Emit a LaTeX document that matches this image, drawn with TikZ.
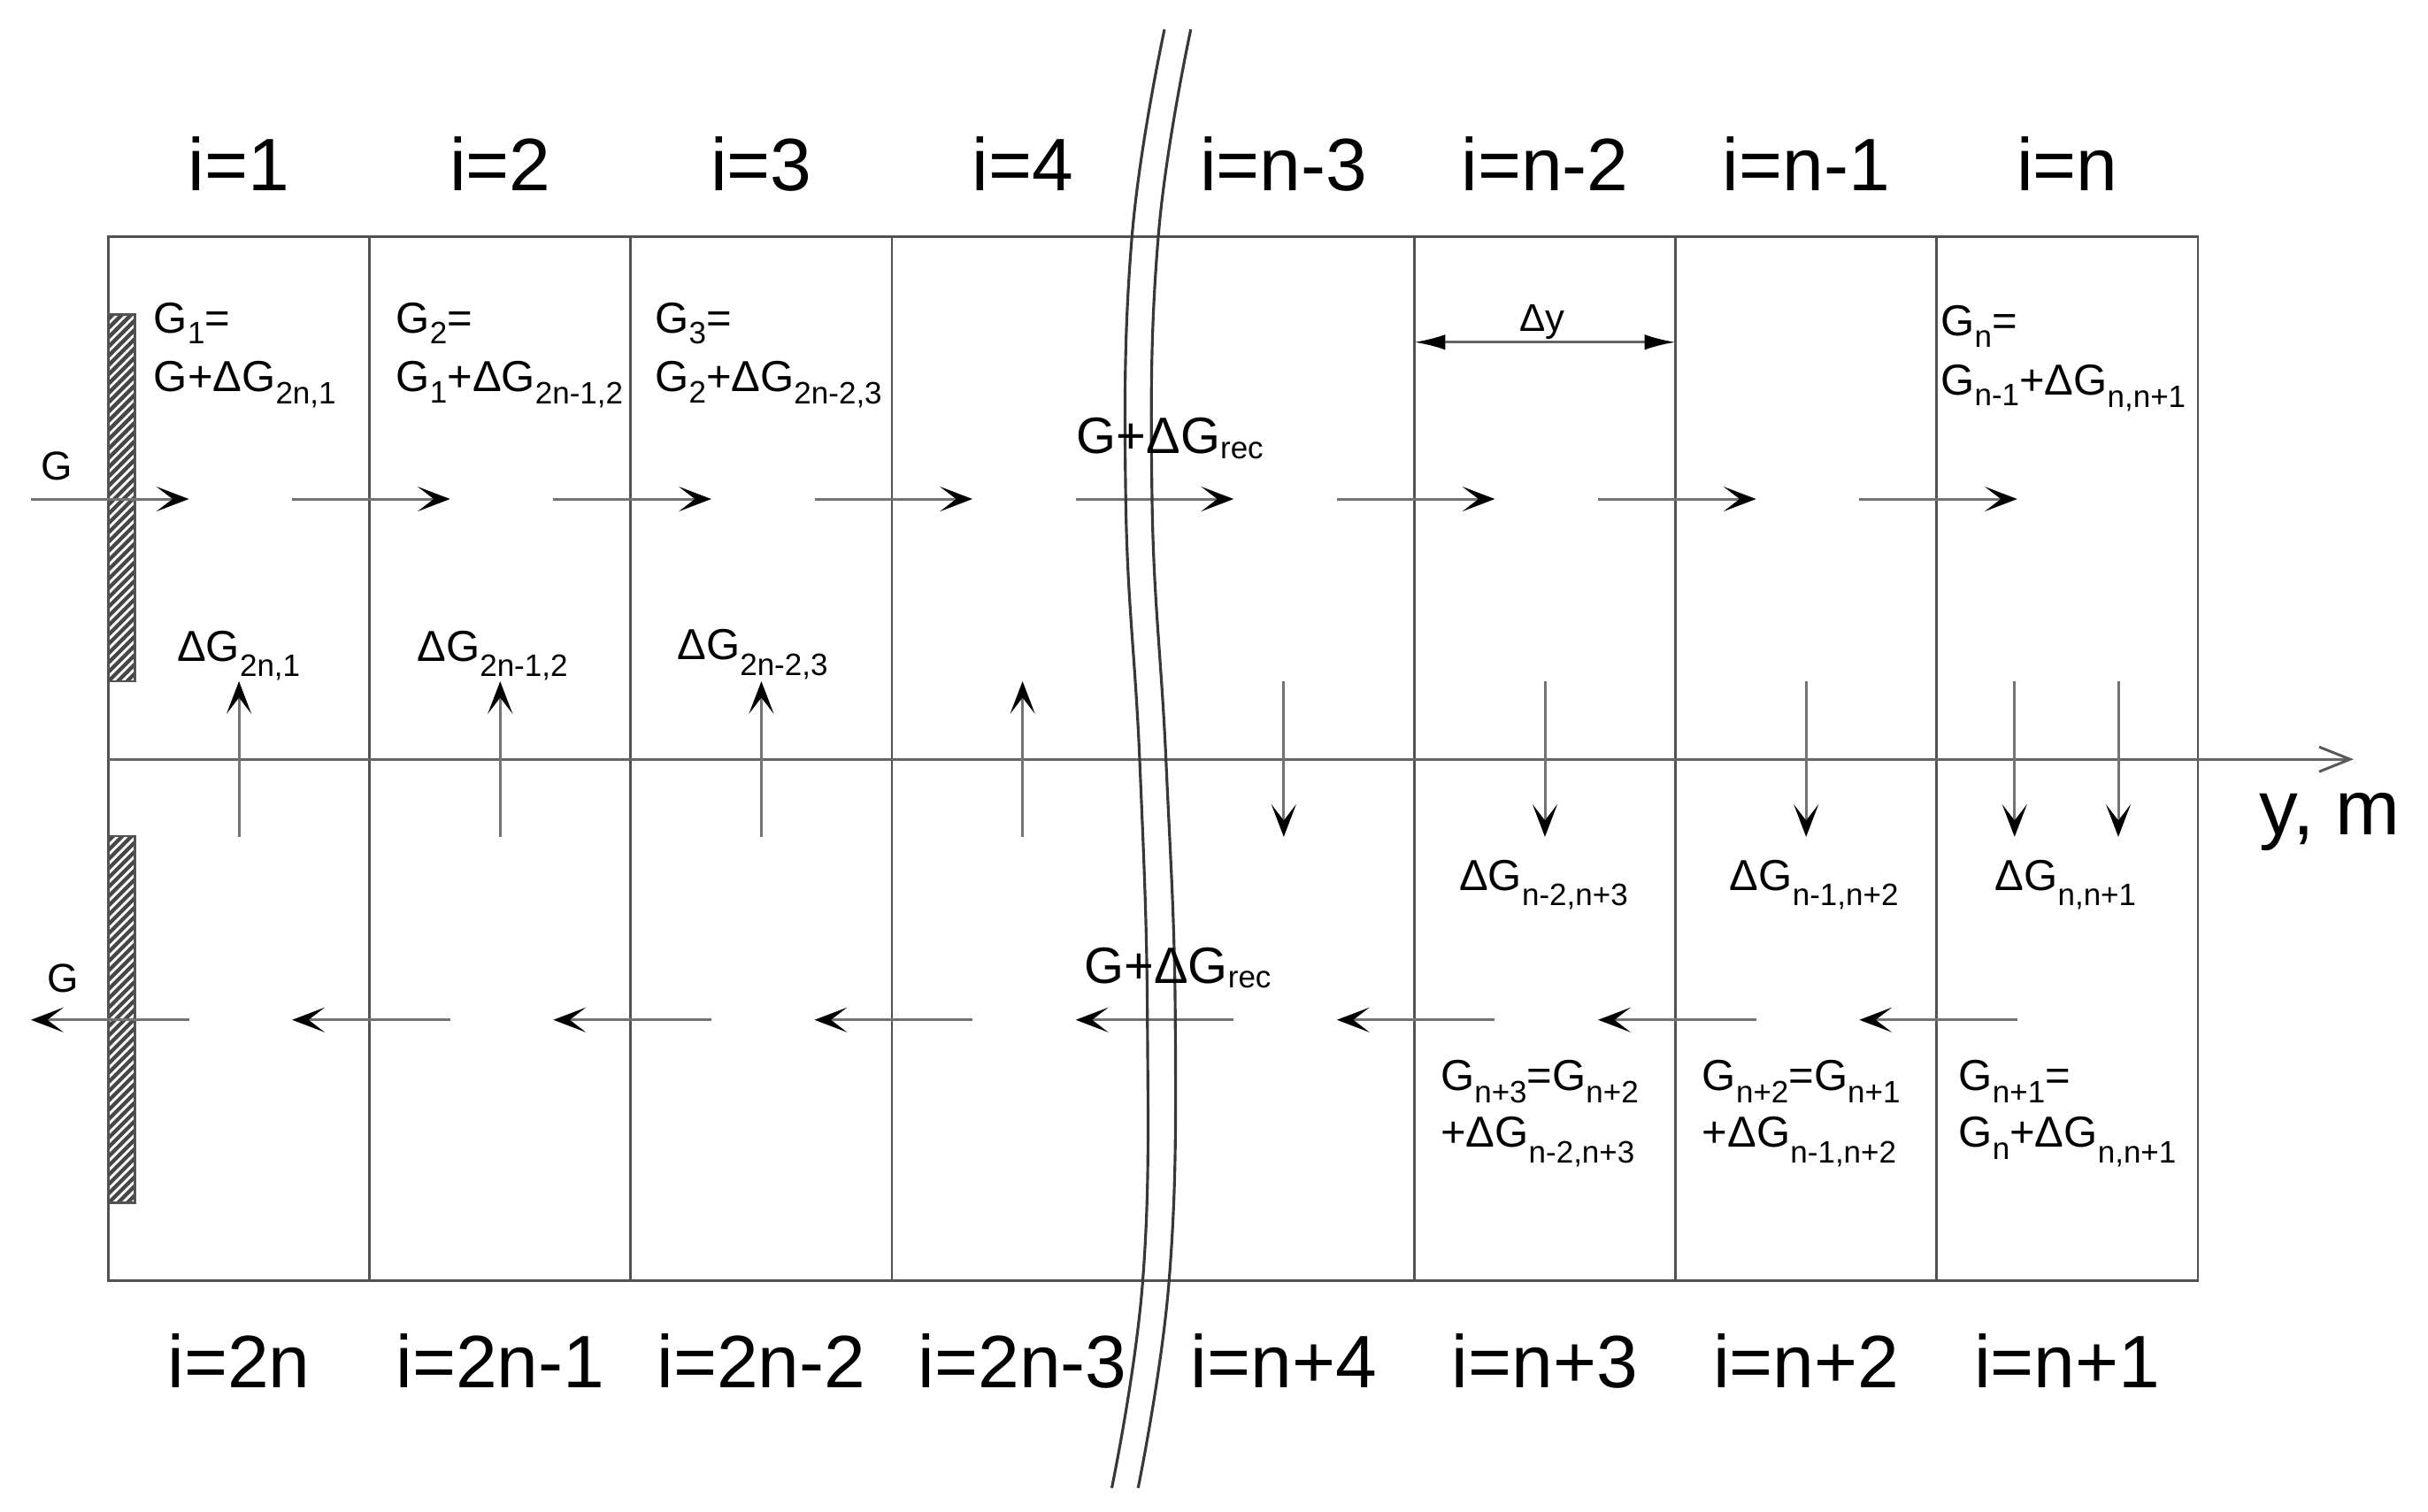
\documentclass[tikz,border=0pt]{standalone}
\usepackage{fontspec}
\setmainfont{Liberation Sans}
\usetikzlibrary{arrows.meta}
\newcommand\sbs[2][4pt]{\raisebox{-#1}{\fontsize{10}{10}\selectfont #2}}
\begin{document}
\begin{tikzpicture}[x=0.5pt,y=-0.5pt,
  frame/.style={draw=black!68, line width=0.8pt},
  flow/.style={draw=black!55, line width=0.85pt, -{Stealth[length=10.5pt,width=8pt,inset=5.2pt,color=black]}},
  dimarr/.style={draw=black!60, line width=0.85pt, {Latex[length=10pt,width=5pt,color=black]}-{Latex[length=10pt,width=5pt,color=black]}},
  axis/.style={draw=black!60, line width=0.85pt, -{Straight Barb[length=10pt,width=8pt,color=black!65]}},
  lbl/.style={inner sep=0pt, anchor=base, font=\fontsize{24}{24}\selectfont},
  txt/.style={inner sep=0pt, anchor=base west, font=\fontsize{14}{14}\selectfont},
  brk/.style={draw=black!78, line width=0.9pt},
]
\useasboundingbox (0,0) rectangle (1568,976);
% hatched walls
\foreach \yy/\hh [count=\w] in {203/440, 540/777} {
  \begin{scope}
    \clip (70,\yy) rectangle (87,\hh);
    \fill[black!72] (70,\yy) rectangle (87,\hh);
    \foreach \s in {0,6,...,270} \draw[white, line width=0.8pt] (70,{\yy+\s}) -- (100,{\yy+\s-30});
  \end{scope}
  \draw[frame] (70,\yy) rectangle (87,\hh);
}
% frame
\coordinate (TL) at (70,153);
\coordinate (BR) at (1419.4,827);
\draw[frame] (TL) rectangle (BR);
\foreach \k in {1,2,3,5,6,7} {
  \coordinate (ct\k) at ({70+168.675*\k},153);
  \coordinate (cb\k) at ({70+168.675*\k},827);
  \draw[frame] (ct\k) -- (cb\k);
}
% axis
\coordinate (ax0) at (70,490.4);
\coordinate (ax1) at (1520,490.4);
\draw[axis] (ax0) -- (ax1);
\node[inner sep=0pt, anchor=base west, font=\fontsize{25}{25}\selectfont] (ym) at (1459,539) {y, m};
% horizontal flow arrows
\foreach \k in {0,...,7} {
  \coordinate (ua\k) at ({70+168.675*\k-50},322.3);
  \coordinate (ub\k) at ({70+168.675*\k+52},322.3);
  \draw[flow] (ua\k) -- (ub\k);
  \coordinate (la\k) at ({70+168.675*\k+52},658.7);
  \coordinate (lb\k) at ({70+168.675*\k-50},658.7);
  \draw[flow] (la\k) -- (lb\k);
}
% vertical arrows
\foreach \k in {0,...,3} {
  \coordinate (va\k) at ({70+168.675*(\k+0.5)},540.5);
  \coordinate (vb\k) at ({70+168.675*(\k+0.5)},440);
  \draw[flow] (va\k) -- (vb\k);
}
\foreach \k in {4,5,6} {
  \coordinate (va\k) at ({70+168.675*(\k+0.5)},440);
  \coordinate (vb\k) at ({70+168.675*(\k+0.5)},540.5);
  \draw[flow] (va\k) -- (vb\k);
}
\coordinate (va7) at (1301,440); \coordinate (vb7) at (1301,540.5);
\coordinate (va8) at (1368,440); \coordinate (vb8) at (1368,540.5);
\draw[flow] (va7) -- (vb7);
\draw[flow] (va8) -- (vb8);
% delta y
\coordinate (dy0) at ({70+168.675*5},221);
\coordinate (dy1) at ({70+168.675*6},221);
\draw[dimarr] (dy0) -- (dy1);
\node[inner sep=0pt, anchor=base, font=\fontsize{12.5}{12.5}\selectfont] (dyl) at (996,214) {Δy};
% break lines
\draw[brk] plot[smooth, tension=0.7] coordinates {(752,19) (731,153) (727,323) (736,491) (741,659) (738,827) (718,961)};
\draw[brk] plot[smooth, tension=0.7] coordinates {(769,19) (748,153) (744,323) (753,491) (759,659) (755,827) (735,961)};
% top labels
\foreach \t [count=\k from 0] in {i=1,i=2,i=3,i=4,i=n-3,i=n-2,i=n-1,i=n}
  \node[lbl] (top\k) at ({70+168.675*(\k+0.5)},123) {\t};
\foreach \t [count=\k from 0] in {i=2n,i=2n-1,i=2n-2,i=2n-3,i=n+4,i=n+3,i=n+2,i=n+1}
  \node[lbl] (bot\k) at ({70+168.675*(\k+0.5)},896) {\t};
% inlet / outlet
\node[inner sep=0pt, anchor=base west, font=\fontsize{13}{13}\selectfont] (gin) at (26,310) {G};
\node[inner sep=0pt, anchor=base west, font=\fontsize{13}{13}\selectfont] (gout) at (30,641) {G};
% upper formulas
\node[txt] (g1a) at (99,215) {G\sbs[3.5pt]{1}=};
\node[txt] (g1b) at (99,253) {G+ΔG\sbs{2n,1}};
\node[txt] (g2a) at (255.5,215) {G\sbs[3.5pt]{2}=};
\node[txt] (g2b) at (255.5,253) {G\sbs[3.5pt]{1}+ΔG\sbs{2n-1,2}};
\node[txt] (g3a) at (422.7,215) {G\sbs[3.5pt]{3}=};
\node[txt] (g3b) at (422.7,253) {G\sbs[3.5pt]{2}+ΔG\sbs{2n-2,3}};
\node[txt] (gna) at (1253,217) {G\sbs[3.5pt]{n}=};
\node[txt] (gnb) at (1253,255) {G\sbs[3.5pt]{n-1}+ΔG\sbs{n,n+1}};
% recirculation labels
\node[inner sep=0pt, anchor=base west, font=\fontsize{16.5}{16.5}\selectfont] (rec1) at (695,293) {G+ΔG\raisebox{-1.5pt}{\fontsize{10}{10}\selectfont rec}};
\node[inner sep=0pt, anchor=base west, font=\fontsize{16.5}{16.5}\selectfont] (rec2) at (700,635) {G+ΔG\raisebox{-1.5pt}{\fontsize{10}{10}\selectfont rec}};
% middle delta labels
\node[txt] (d1) at (114,427) {ΔG\sbs[5pt]{2n,1}};
\node[txt] (d2) at (269,427) {ΔG\sbs[5pt]{2n-1,2}};
\node[txt] (d3) at (437,426) {ΔG\sbs[5pt]{2n-2,3}};
\node[txt] (d4) at (942,575) {ΔG\sbs[5pt]{n-2,n+3}};
\node[txt] (d5) at (1116.7,575) {ΔG\sbs[5pt]{n-1,n+2}};
\node[txt] (d6) at (1288,575) {ΔG\sbs[5pt]{n,n+1}};
% lower formulas
\node[txt] (h3a) at (930,704) {G\sbs{n+3}=G\sbs{n+2}};
\node[txt] (h3b) at (930,741) {+ΔG\sbs[5pt]{n-2,n+3}};
\node[txt] (h2a) at (1099,704) {G\sbs{n+2}=G\sbs{n+1}};
\node[txt] (h2b) at (1099,741) {+ΔG\sbs[5pt]{n-1,n+2}};
\node[txt] (h1a) at (1264.6,704) {G\sbs{n+1}=};
\node[txt] (h1b) at (1264.6,741) {G\sbs{n}+ΔG\sbs[5pt]{n,n+1}};
\end{tikzpicture}
\end{document}
